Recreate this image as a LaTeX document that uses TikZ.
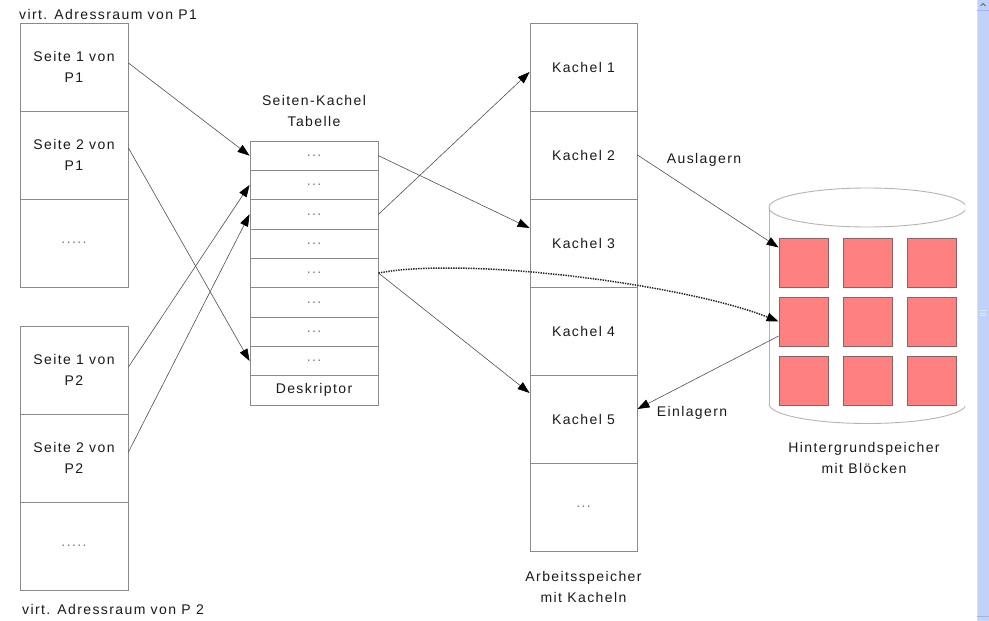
\documentclass[tikz,border=0pt]{standalone}
\usepackage{fontspec}
\setmainfont{Liberation Sans}[LetterSpace=10]
\usetikzlibrary{arrows.meta,calc}
\definecolor{txt}{HTML}{1A1A1A}
\definecolor{boxc}{HTML}{8A8A8A}
\definecolor{arrc}{HTML}{505050}
\definecolor{dotc}{HTML}{777777}
\definecolor{blkf}{HTML}{FF8080}
\definecolor{blkb}{HTML}{8A6464}
\definecolor{cylc}{HTML}{B4B4B4}
\definecolor{sbar}{HTML}{BFD3FA}
\definecolor{sbarl}{HTML}{9DB4E4}
\begin{document}
\begin{tikzpicture}[x=1pt,y=-1pt,
  every node/.style={font=\fontsize{14}{21}\selectfont, text=txt, inner sep=0pt},
  pagebox/.style={draw=boxc, line width=0.9pt, minimum width=108pt, minimum height=88pt, align=center},
  rowbox/.style={draw=boxc, line width=0.9pt, minimum width=128pt, minimum height=29.33pt},
  membox/.style={draw=boxc, line width=0.9pt, minimum width=107pt, minimum height=88pt},
  blk/.style={draw=blkb, fill=blkf, line width=0.8pt, minimum size=49pt},
  lbl/.style={align=center},
  arr/.style={draw=arrc, line width=0.6pt, -{Triangle[length=12pt,width=8.5pt,color=black]}},
  dots/.style={text=dotc}
]
\useasboundingbox (0,0) rectangle (989,621);
\fill[white] (0,0) rectangle (989,621);

% left column: virtual address spaces
\node[anchor=west] (v1) at (19,14) {virt. Adressraum von P1};
\node[pagebox] (s11) at (74,67) {Seite 1 von\\P1};
\node[pagebox] (s12) at (74,155) {Seite 2 von\\P1};
\node[pagebox,dots] (s13) at (74,243) {.....};
\node[pagebox] (s21) at (74,370) {Seite 1 von\\P2};
\node[pagebox] (s22) at (74,458) {Seite 2 von\\P2};
\node[pagebox,dots] (s23) at (74,546) {.....};
\node[anchor=west] (v2) at (22,609) {virt. Adressraum von P 2};

% page table
\node[lbl] (tt) at (314,111) {Seiten-Kachel\\Tabelle};
\foreach \i in {1,...,8}
  \node[rowbox,dots] (t\i) at (314,{141+29.33*(\i-0.5)}) {...};
\node[rowbox] (t9) at (314,{141+29.33*8.5}) {Deskriptor};

% main memory
\node[membox] (k1) at (583.5,67) {Kachel 1};
\node[membox] (k2) at (583.5,155) {Kachel 2};
\node[membox] (k3) at (583.5,243) {Kachel 3};
\node[membox] (k4) at (583.5,331) {Kachel 4};
\node[membox] (k5) at (583.5,419) {Kachel 5};
\node[membox,dots] (k6) at (583.5,507) {...};
\node[lbl] (kl) at (583.5,587) {Arbeitsspeicher\\mit Kacheln};

% background storage cylinder
\begin{scope}
  \clip (760,180) rectangle (965,440);
  \draw[cylc, line width=0.9pt] (867.5,207.5) ellipse[x radius=98.5, y radius=19.5];
  \draw[cylc, line width=0.9pt] (769,207.5) -- (769,404);
  \draw[cylc, line width=0.9pt] (966,207.5) -- (966,404);
  \begin{scope}
    \clip (760,404) rectangle (965,440);
    \draw[cylc, line width=0.9pt] (867.5,404) ellipse[x radius=98.5, y radius=19.5];
  \end{scope}
\end{scope}
\foreach \r/\y in {1/262.5,2/321.5,3/380.5}
  \foreach \c/\x in {1/803.5,2/867.5,3/931.5}
    \node[blk] (b\r\c) at (\x,\y) {};
\node[lbl] (hl) at (864,458) {Hintergrundspeicher\\mit Blöcken};

% connectors
\draw[arr] ([yshift=4]s11.east) -- (t1.west);
\draw[arr] ([yshift=7]s12.east) -- (t8.west);
\draw[arr] ([yshift=3]s21.east) -- (t2.west);
\draw[arr] ([yshift=6]s22.east) -- (t3.west);
\draw[arr] (t1.east) -- ([yshift=15]k3.west);
\draw[arr] (t3.east) -- ([yshift=-5]k1.west);
\draw[arr] (t5.east) -- ([yshift=26]k5.west);
\draw[arr, draw=black!85, line width=1.5pt, dash pattern=on 1.4pt off 1.1pt] (t5.east) .. controls ($(t5.east)+(92,-17)$) and ($(b21.west)+(-90,-36)$) .. (b21.west);
\draw[arr] (k2.east) -- ([yshift=15]b11.west);
\draw[arr] ([yshift=-14.5]b21.west) -- ([yshift=10]k5.east);
\node (al) at (704,160) {Auslagern};
\node (el) at (692,413) {Einlagern};

% window scrollbar
\fill[sbar] (977,0) rectangle (989,621);
\draw[white!60!sbarl, line width=1pt] (977,0) -- (977,621);
\draw[sbarl, line width=0.6pt] (977,10) -- (989,10);
\draw[sbarl, line width=0.6pt] (977,616) -- (989,616);
\draw[black!60, line width=0.9pt] (980.5,6) -- (983,3.5) -- (985.5,6);
\foreach \g in {310.5,313,315.5}
  \draw[white!70!sbarl, line width=0.6pt] (980,\g) -- (986,\g);
\end{tikzpicture}
\end{document}
